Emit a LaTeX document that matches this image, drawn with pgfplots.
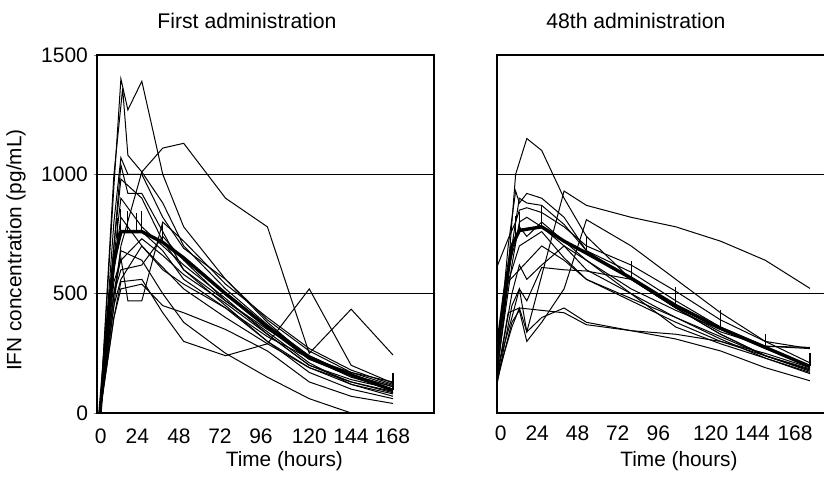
\documentclass[border=0pt]{standalone}
\usepackage{fontspec}
\setmainfont{Liberation Sans}
\usepackage{pgfplots}
\pgfplotsset{compat=1.18}
\pgfplotsset{
  ind/.style={black, line width=0.5pt, mark=none},
  mean/.style={black, line width=1.7pt, line join=round, mark=none},
  ebar/.style={draw=none, mark=none, forget plot,
    error bars/.cd, y dir=plus, y explicit,
    error bar style={draw=black, line width=0.6pt},
    error mark options={draw=black, mark size=2pt, line width=0.6pt}},
  panel/.style={
    scale only axis, width=168.5pt, height=179pt,
    ymin=0, ymax=1500,
    ymajorgrids, grid style={black, line width=0.5pt},
    axis line style={line width=0.6pt},
    xtick style={draw=none},
    tick pos=left,
    tick label style={font=\fontsize{10.5}{12}\selectfont},
    label style={font=\fontsize{10.4}{12}\selectfont},
    title style={font=\fontsize{10.6}{12}\selectfont},
    xticklabel style={anchor=base, yshift=-13.5pt},
    /pgf/number format/assume math mode=true,
    /pgf/number format/1000 sep={},
  }
}
\begin{document}
\begin{tikzpicture}[x=1pt,y=1pt]
\useasboundingbox (-48.5,-32.5) rectangle (363.5,206.5);
% ---------------- First administration ----------------
\begin{axis}[panel, at={(0,0)}, anchor=south west,
  xmin=-1.7, xmax=191.5,
  xtick={0.4,21.4,45.3,68.8,92.3,120,143.9,167.7},
  xticklabels={0,24,48,72,96,120,144,168},
  ytick={0,500,1000,1500},
  ytick style={line width=0.5pt}, major tick length=1.5pt, tick align=outside,
  yticklabel style={xshift=0.5pt},
  title={First administration},
  title style={at={(axis description cs:0.445,1)}, anchor=base, yshift=7.5pt},
  xlabel={Time (hours)},
  xlabel style={at={(axis description cs:0.556,0)}, anchor=base, yshift=-26.5pt},
  ylabel={IFN concentration (pg/mL)},
  ylabel style={at={(axis description cs:-0.2404,0.455)}, anchor=center},
]
\addplot[ind] coordinates {(0,0)(8,950)(12,1400)(16,1270)(24,1390)(36,1000)(48,780)(72,560)(96,380)(120,230)(144,150)(168,100)};
\addplot[ind] coordinates {(0,0)(8,1000)(13,1360)(16,1080)(24,1010)(36,880)(48,700)(72,520)(96,370)(120,240)(144,160)(168,110)};
\addplot[ind] coordinates {(0,0)(8,450)(12,700)(24,1010)(36,1110)(48,1130)(72,900)(96,780)(120,250)(144,435)(168,243)};
\addplot[ind] coordinates {(0,0)(8,800)(12,1070)(16,1000)(24,1000)(36,820)(48,690)(72,560)(96,390)(120,260)(144,170)(168,115)};
\addplot[ind] coordinates {(0,0)(8,700)(12,1040)(16,920)(24,920)(36,760)(48,600)(72,450)(96,300)(120,190)(144,120)(168,80)};
\addplot[ind] coordinates {(0,0)(8,500)(12,650)(16,470)(24,470)(36,800)(48,720)(72,540)(96,400)(120,270)(144,180)(168,120)};
\addplot[ind] coordinates {(0,0)(8,600)(12,820)(24,700)(36,610)(48,520)(72,400)(96,290)(120,190)(144,130)(168,90)};
\addplot[ind] coordinates {(0,0)(8,400)(12,550)(24,560)(36,420)(48,300)(72,240)(96,290)(120,520)(144,200)(168,125)};
\addplot[ind] coordinates {(0,0)(8,500)(12,680)(24,640)(36,500)(48,380)(72,250)(96,150)(120,60)(144,0)};
\addplot[ind] coordinates {(0,0)(8,650)(12,900)(24,780)(36,700)(48,620)(72,480)(96,330)(120,200)(144,130)(168,85)};
\addplot[ind] coordinates {(0,0)(8,500)(12,600)(24,620)(36,740)(48,640)(72,470)(96,350)(120,240)(144,160)(168,110)};
\addplot[ind] coordinates {(0,0)(8,450)(12,560)(24,700)(36,600)(48,540)(72,440)(96,300)(120,170)(144,100)(168,60)};
\addplot[ind] coordinates {(0,0)(8,400)(12,520)(24,540)(36,450)(48,420)(72,350)(96,260)(120,130)(144,70)(168,40)};
\addplot[ind] coordinates {(0,0)(8,600)(12,760)(24,760)(36,680)(48,560)(72,440)(96,320)(120,230)(144,170)(168,130)};
\addplot[ind] coordinates {(0,0)(8,700)(12,980)(24,900)(36,720)(48,600)(72,470)(96,340)(120,210)(144,120)(168,70)};
\addplot[ind] coordinates {(0,0)(8,550)(12,640)(24,730)(36,660)(48,580)(72,460)(96,330)(120,200)(144,140)(168,100)};
\addplot[mean] coordinates {(0,0)(4,350)(8,640)(12,760)(16,760)(24,760)(36,715)(48,650)(72,500)(96,360)(120,230)(144,160)(168,95)};
\addplot[ebar] coordinates {(10,720) +- (0,80) (12,760) +- (0,80) (16,760) +- (0,70) (21,760) +- (0,60) (24,760) +- (0,70) (36,715) +- (0,60) (168,95) +- (0,55)};
\end{axis}
% ---------------- 48th administration ----------------
\begin{axis}[panel, at={(200pt,0)}, anchor=south west,
  xmin=0, xmax=180.9,
  xtick={2.0,21.6,43.3,64.8,86.6,114.7,137.1,160.0},
  xticklabels={0,24,48,72,96,120,144,168},
  ytick={500,1000}, yticklabels={}, ytick style={draw=none},
  title={48th administration},
  title style={at={(axis description cs:0.412,1)}, anchor=base, yshift=7.5pt},
  xlabel={Time (hours)},
  xlabel style={at={(axis description cs:0.54,0)}, anchor=base, yshift=-26.5pt},
]
\addplot[ind] coordinates {(0,230)(6,600)(10,1000)(16,1150)(24,1100)(36,900)(48,740)(72,560)(96,440)(120,330)(144,240)(168,175)};
\addplot[ind] coordinates {(0,150)(8,360)(12,440)(16,340)(36,930)(48,870)(72,820)(96,780)(120,720)(144,640)(168,522)};
\addplot[ind] coordinates {(0,200)(6,700)(10,930)(12,880)(16,920)(24,900)(36,820)(48,680)(72,590)(96,470)(120,360)(144,280)(168,275)};
\addplot[ind] coordinates {(0,613)(6,730)(10,800)(12,850)(16,860)(24,840)(36,780)(48,700)(72,620)(96,510)(120,390)(144,300)(168,270)};
\addplot[ind] coordinates {(0,150)(6,420)(12,440)(24,430)(36,420)(48,370)(72,345)(96,330)(120,300)(144,250)(168,190)};
\addplot[ind] coordinates {(0,180)(8,400)(12,520)(16,470)(24,610)(36,600)(48,595)(72,560)(96,440)(120,330)(144,240)(168,180)};
\addplot[ind] coordinates {(0,120)(8,450)(12,520)(16,340)(24,400)(36,440)(48,380)(72,345)(96,310)(120,260)(144,190)(168,135)};
\addplot[ind] coordinates {(0,200)(6,600)(12,780)(16,740)(24,800)(36,720)(48,640)(72,520)(96,430)(120,350)(144,270)(168,195)};
\addplot[ind] coordinates {(0,170)(6,550)(12,700)(16,720)(24,760)(36,650)(48,560)(72,470)(96,380)(120,300)(144,240)(168,185)};
\addplot[ind] coordinates {(0,250)(6,550)(12,600)(24,700)(36,640)(48,560)(72,480)(96,400)(120,320)(144,240)(168,180)};
\addplot[ind] coordinates {(0,140)(8,500)(12,620)(16,560)(24,620)(36,700)(48,640)(72,500)(96,360)(120,290)(144,230)(168,165)};
\addplot[ind] coordinates {(0,130)(8,380)(12,430)(16,300)(24,380)(36,520)(48,810)(72,700)(96,560)(120,420)(144,300)(168,210)};
\addplot[ind] coordinates {(0,180)(8,620)(12,800)(16,820)(24,780)(36,700)(48,600)(72,500)(96,400)(120,310)(144,230)(168,170)};
\addplot[ind] coordinates {(0,160)(8,700)(12,900)(16,880)(24,870)(36,790)(48,680)(72,560)(96,440)(120,340)(144,280)(168,270)};
\addplot[mean] coordinates {(0,260)(4,500)(8,700)(12,765)(16,770)(24,780)(36,720)(48,670)(72,565)(96,450)(120,355)(144,275)(168,195)};
\addplot[ebar] coordinates {(10,740) +- (0,70) (12,765) +- (0,60) (24,780) +- (0,70) (48,670) +- (0,55) (72,565) +- (0,55) (96,450) +- (0,60) (120,355) +- (0,60) (144,275) +- (0,40) (168,195) +- (0,40)};
\end{axis}
\end{tikzpicture}
\end{document}
